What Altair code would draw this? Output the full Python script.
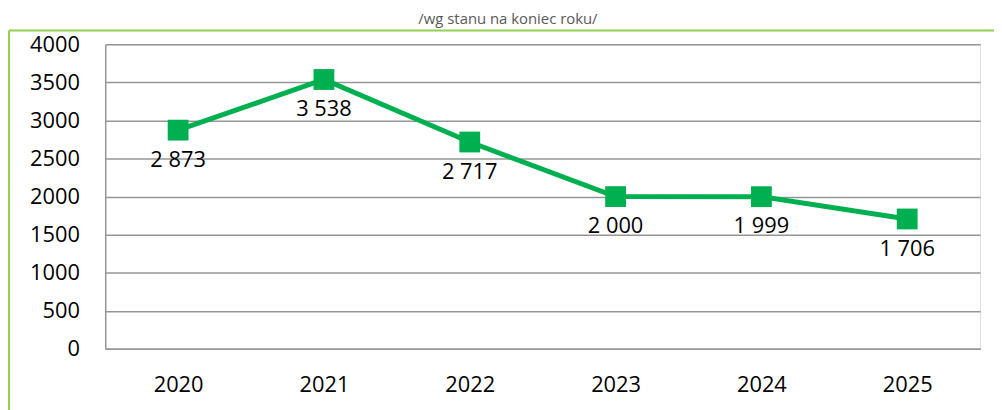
import altair as alt
import pandas as pd

years = ["2020", "2021", "2022", "2023", "2024", "2025"]
values = [2873, 3538, 2717, 2000, 1999, 1706]
labels = ["2 873", "3 538", "2 717", "2 000", "1 999", "1 706"]
subtitle = "/wg stanu na koniec roku/"

df = pd.DataFrame({"year": years, "value": values, "label": labels})

FONT = "Open Sans"
GREEN = "#00B050"
BORDER = "#92D050"
GRID = "#969696"

W, H = 882, 307

x = alt.X("year:O", sort=years,
          scale=alt.Scale(type="point", padding=0.5),
          axis=alt.Axis(title=None, labelAngle=0, ticks=False, domain=True,
                        domainColor=GRID, domainWidth=1.5, labelFontSize=22,
                        labelFont=FONT, labelColor="#000", labelPadding=26,
                        grid=False))
y = alt.Y("value:Q", scale=alt.Scale(domain=[0, 4000], nice=False),
          axis=alt.Axis(title=None, values=list(range(0, 4001, 500)),
                        ticks=False, domain=True, domainColor=GRID,
                        domainWidth=1.5, grid=True, gridColor=GRID,
                        gridWidth=1.5, labelFontSize=22, labelFont=FONT,
                        labelColor="#000", labelPadding=26, format="d"))

base = alt.Chart(df).encode(x=x, y=y)

line = base.mark_line(color=GREEN, strokeWidth=5)
points = base.mark_point(shape="square", filled=True, size=440,
                         color=GREEN, opacity=1)
text = base.mark_text(dy=30, fontSize=22, font=FONT, color="#000").encode(
    text="label:N")

one = pd.DataFrame({"k": [0]})
border_top = alt.Chart(one).mark_rule(
    color=BORDER, strokeWidth=2, clip=False
).encode(x=alt.value(-97), x2=alt.value(W + 20), y=alt.value(-14))
border_left = alt.Chart(one).mark_rule(
    color=BORDER, strokeWidth=2, clip=False
).encode(x=alt.value(-97), y=alt.value(-14), y2=alt.value(H + 70))

title = alt.Chart(pd.DataFrame({"t": [subtitle]})).mark_text(
    fontSize=15, font=FONT, color="#595959", baseline="middle", clip=False
).encode(x=alt.value(406), y=alt.value(-25), text="t:N")

chart = alt.layer(border_top, border_left, title, line, points, text).properties(
    width=W, height=H,
    autosize=alt.AutoSizeParams(type="none"),
    padding={"left": 98, "top": 35, "right": 14, "bottom": 60},
).configure_view(stroke=None).configure(background="white")

chart.save("out.html", embed_options={"renderer": "svg", "actions": False})
